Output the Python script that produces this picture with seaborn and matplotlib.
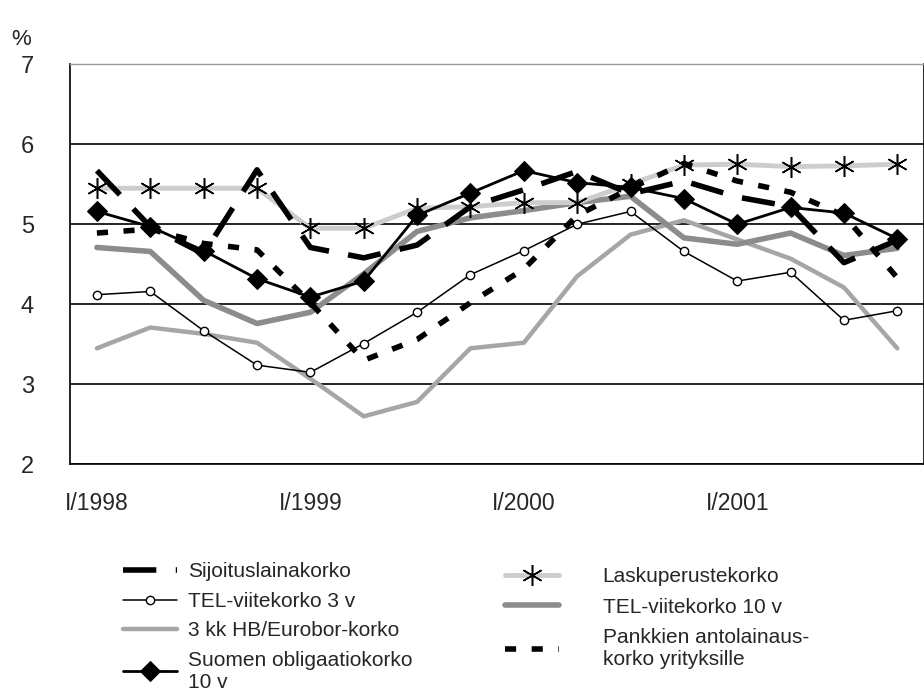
import numpy as np
import pandas as pd
import matplotlib
matplotlib.use("Agg")
import matplotlib.pyplot as plt
import seaborn as sns

quarters = [f"{q}/{y}" for y in (1998, 1999, 2000, 2001) for q in ("I", "II", "III", "IV")]
sijoitus = [5.67, 4.97, 4.63, 5.68, 4.71, 4.58, 4.74, 5.22, 5.43, 5.66, 5.38, 5.54, 5.34, 5.22, 4.52, 4.80]
lasku = [5.45, 5.45, 5.45, 5.45, 4.95, 4.95, 5.20, 5.22, 5.27, 5.27, 5.50, 5.74, 5.75, 5.72, 5.73, 5.75]
tel3 = [4.12, 4.16, 3.67, 3.24, 3.15, 3.51, 3.90, 4.37, 4.67, 5.00, 5.16, 4.66, 4.29, 4.40, 3.80, 3.92]
tel10 = [4.71, 4.66, 4.05, 3.76, 3.90, 4.38, 4.91, 5.08, 5.17, 5.27, 5.35, 4.83, 4.75, 4.89, 4.61, 4.70]
hb3 = [3.45, 3.71, 3.63, 3.52, 3.07, 2.60, 2.78, 3.45, 3.52, 4.35, 4.87, 5.05, 4.81, 4.57, 4.21, 3.45]
pankki = [4.89, 4.94, 4.76, 4.68, 4.02, 3.30, 3.56, 4.02, 4.44, 5.11, 5.45, 5.76, 5.54, 5.40, 5.11, 4.33]
suomen = [5.16, 4.97, 4.67, 4.32, 4.09, 4.29, 5.11, 5.39, 5.67, 5.52, 5.46, 5.32, 5.00, 5.21, 5.14, 4.82]

sns.set_style("white")
plt.rcParams['font.family'] = ['Liberation Sans', 'DejaVu Sans']

df = pd.DataFrame({"x": np.arange(len(quarters)), "sijoitus": sijoitus, "lasku": lasku,
                   "tel3": tel3, "tel10": tel10, "hb3": hb3, "pankki": pankki, "suomen": suomen})

fig = plt.figure(figsize=(9.24, 6.9), dpi=100)
ax = fig.add_axes([0.076, 0.327, 0.924, 0.58])

h = {}
h["hb3"] = sns.lineplot(data=df, x="x", y="hb3", ax=ax, color="#a6a6a6", lw=3.2,
                        label="3 kk HB/Eurobor-korko").lines[-1]
h["tel10"] = sns.lineplot(data=df, x="x", y="tel10", ax=ax, color="#8c8c8c", lw=4,
                          label="TEL-viitekorko 10 v").lines[-1]
h["lasku"] = sns.lineplot(data=df, x="x", y="lasku", ax=ax, color="#cdcdcd", lw=3.5,
                          marker=(6, 2, 0), markersize=15, mec="black", mew=1.1,
                          label="Laskuperustekorko").lines[-1]
h["tel3"] = sns.lineplot(data=df, x="x", y="tel3", ax=ax, color="black", lw=1.1,
                         marker="o", markersize=6, mfc="white", mec="black", mew=1,
                         label="TEL-viitekorko 3 v").lines[-1]
h["pankki"] = sns.lineplot(data=df, x="x", y="pankki", ax=ax, color="black", lw=4,
                           linestyle=(0, (2, 2.8)), label="Pankkien antolainaus-\nkorko yrityksille").lines[-1]
h["sijoitus"] = sns.lineplot(data=df, x="x", y="sijoitus", ax=ax, color="black", lw=4,
                             linestyle=(0, (6, 3.5)), label="Sijoituslainakorko").lines[-1]
h["suomen"] = sns.lineplot(data=df, x="x", y="suomen", ax=ax, color="black", lw=2,
                           marker="D", markersize=10, mec="black",
                           label="Suomen obligaatiokorko\n10 v").lines[-1]
ax.get_legend().remove()

ax.set_xlim(-0.5, len(quarters) - 0.5)
ax.set_ylim(2, 7)
ax.set_yticks([2, 3, 4, 5, 6, 7])
ax.set_yticklabels(["2", "3", "4", "5", "6", "7"], fontsize=17)
ax.yaxis.grid(True, color="black", lw=1.2)
ax.set_axisbelow(True)
ax.tick_params(axis="y", length=0, pad=26)

ax.set_xticks(df["x"][::4])
ax.set_xticklabels(quarters[::4], fontsize=16.5)
ax.set_xticks(df["x"][:-1] + 0.5, minor=True)
ax.tick_params(axis="x", which="major", length=0, pad=20)
ax.tick_params(axis="x", which="minor", direction="in", length=8, width=1, color="black")
ax.set_xlabel("")
ax.set_ylabel("")

for s in ["left", "bottom", "right"]:
    ax.spines[s].set_color("black")
    ax.spines[s].set_linewidth(1.2)
ax.spines["top"].set_color("#999999")
ax.spines["top"].set_linewidth(1)

fig.text(0.012, 0.935, "%", fontsize=16)

# two legend columns, placed separately like in the original
left = ["sijoitus", "tel3", "hb3", "suomen"]
right = ["lasku", "tel10", "pankki"]
leg1 = fig.legend([h[k] for k in left], [h[k].get_label() for k in left],
                  loc="upper left", bbox_to_anchor=(0.122, 0.2), bbox_transform=fig.transFigure,
                  frameon=False, fontsize=15, handlelength=2.6, handletextpad=0.5,
                  labelspacing=0.5, borderpad=0)
fig.legend([h[k] for k in right], [h[k].get_label() for k in right],
           loc="upper left", bbox_to_anchor=(0.535, 0.193), bbox_transform=fig.transFigure,
           frameon=False, fontsize=15, handlelength=2.6, handletextpad=2.1,
           labelspacing=0.55, borderpad=0)

fig.savefig("out.png", dpi=100)
